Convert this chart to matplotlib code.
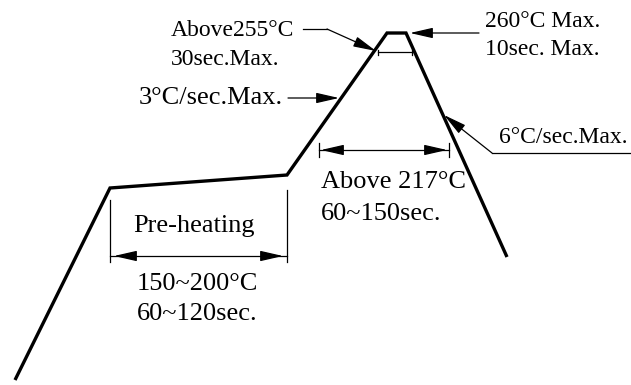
import matplotlib
matplotlib.use("Agg")
import matplotlib.pyplot as plt

# Reflow profile outline (diagram units; y grows downward)
profile_x = [15, 110, 287, 387, 406, 507]
profile_y = [380, 188, 175, 33, 33, 257]

labels_peak = ["260°C Max.", "10sec. Max."]
labels_255 = ["Above255°C", "30sec.Max."]
label_ramp_up = "3°C/sec.Max."
label_ramp_down = "6°C/sec.Max."
labels_217 = ["Above 217°C", "60~150sec."]
label_preheat = "Pre-heating"
labels_preheat = ["150~200°C", "60~120sec."]

FONT = "Liberation Serif"
SMALL = 17
LARGE = 19

fig = plt.figure(figsize=(6.31, 3.85), dpi=100)
ax = fig.add_axes([0, 0, 1, 1])
ax.set_xlim(0, 631)
ax.set_ylim(385, 0)
ax.axis("off")

# main profile
ax.plot(profile_x, profile_y, color="black", lw=2.4, solid_joinstyle="miter",
        solid_capstyle="butt")

head = "-|>,head_length=1.4,head_width=0.32"
thin = 0.9

def arrow(x0, y0, x1, y1, style=head, lw=thin):
    ax.annotate("", xy=(x1, y1), xytext=(x0, y0),
                arrowprops=dict(arrowstyle=style, color="black", lw=lw,
                                shrinkA=0, shrinkB=0, mutation_scale=10))

def text(x, y, s, size):
    ax.text(x, y, s, fontsize=size, family=FONT, ha="left", va="baseline",
            color="black")

# Above 255 leader
ax.plot([303, 327], [29, 29], color="black", lw=thin)
arrow(327, 29, 376, 51)
# 255 marker line between the slopes
ax.plot([378, 412], [52, 52], color="black", lw=thin)
ax.plot([378, 378], [50, 55], color="black", lw=thin)
ax.plot([412, 412], [50, 55], color="black", lw=thin)

# 3C/sec arrow
arrow(288, 98, 339, 98)
# 260C arrow
arrow(479, 33, 410, 33)
# 6C/sec leader
ax.plot([631, 492], [153, 153], color="black", lw=thin)
arrow(492, 153, 444, 115)

# Above 217 dimension
ax.plot([319, 449], [150, 150], color="black", lw=thin)
arrow(336, 150, 321, 150)
arrow(432, 150, 447, 150)
ax.plot([319, 319], [143, 157], color="black", lw=thin)
ax.plot([449, 449], [143, 157], color="black", lw=thin)

# Pre-heating dimension
ax.plot([110, 110], [200, 262], color="black", lw=thin)
ax.plot([287, 287], [190, 262], color="black", lw=thin)
ax.plot([110, 287], [256, 256], color="black", lw=thin)
arrow(130, 256, 114, 256)
arrow(267, 256, 283, 256)

# texts
text(171, 36, labels_255[0], SMALL)
text(171, 65, labels_255[1], SMALL)
text(139, 104, label_ramp_up, LARGE)
text(485, 27, labels_peak[0], SMALL)
text(485, 55, labels_peak[1], SMALL)
text(499, 143, label_ramp_down, SMALL)
text(321, 188, labels_217[0], LARGE)
text(321, 220, labels_217[1], LARGE)
text(133, 232, label_preheat, LARGE)
text(137, 290, labels_preheat[0], LARGE)
text(137, 320, labels_preheat[1], LARGE)

fig.savefig("out.png", dpi=100, facecolor="white")
